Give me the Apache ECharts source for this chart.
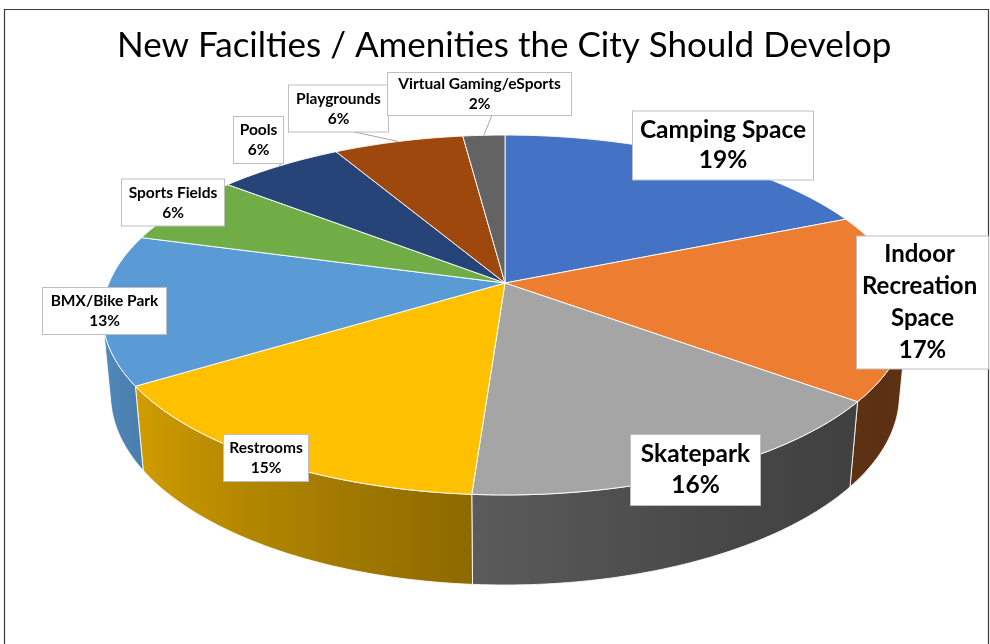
<!DOCTYPE html>
<html><head><meta charset="utf-8">
<script src="https://cdn.jsdelivr.net/npm/echarts@6/dist/echarts.min.js"></script>
<style>html,body{margin:0;padding:0;background:#fff}#c{width:990px;height:644px}</style>
</head><body><div id="c"></div>
<script>
// ---- data ----
const categories = ['Camping Space', 'Indoor Recreation Space', 'Skatepark', 'Restrooms', 'BMX/Bike Park',
  'Sports Fields', 'Pools', 'Playgrounds', 'Virtual Gaming/eSports'];
const shares = [18.6, 16.8, 15.7, 14.9, 13.4, 6.4, 6.0, 6.2, 2.0];
const titleText = 'New Facilties / Amenities the City Should Develop';

// ---- styles / layout ----
const sliceColors = ['#4472C4', '#ED7D31', '#A5A5A5', '#FFC000', '#5B9BD5', '#70AD47', '#264478', '#9E480E', '#636363'];
const labelLayout = [
  { cx: 723, cy: 145.5, w: 180, size: 24.5, lh: 30, pv: 4 },
  { cx: 922.5, cy: 302.5, w: 131, size: 24, lh: 32, pv: 2, wrap: true },
  { cx: 695.5, cy: 470, w: 129, size: 24.5, lh: 31, pv: 4 },
  { cx: 266, cy: 458, w: 84, size: 15.5, lh: 20, pv: 3 },
  { cx: 104.5, cy: 311, w: 123, size: 15.5, lh: 20, pv: 3 },
  { cx: 173, cy: 202.5, w: 102, size: 15.5, lh: 20, pv: 3 },
  { cx: 258.5, cy: 140, w: 49, size: 15.5, lh: 20, pv: 3, leader: [283, 160] },
  { cx: 338.5, cy: 108.5, w: 99, size: 15.5, lh: 20, pv: 3, leader: [350, 131] },
  { cx: 479.5, cy: 94, w: 183, size: 15.5, lh: 20, pv: 1, leader: [492, 115] }
];
const VIEW = { cx: 505, cy: 283, f: 2000, D: 5.05, sinA: 0.44, cosA: 0.898, H: 0.2249 };
const FONT = 'Lato, "Open Sans", sans-serif';

const total = shares.reduce((a, b) => a + b, 0);
const starts = [];
{ let acc = 0; shares.forEach(v => { starts.push(acc / total * 360); acc += v; }); }

function project(phi, r, z) {
  const a = phi * Math.PI / 180;
  const x = r * Math.sin(a), y = -r * Math.cos(a);
  const py = -y * VIEW.sinA + z * VIEW.cosA;
  const pz = y * VIEW.cosA + z * VIEW.sinA;
  const d = VIEW.D - pz;
  return [VIEW.cx + VIEW.f * x / d, VIEW.cy - VIEW.f * py / d];
}
function shadeFactor(phi) { return 0.683 + 0.2935 * Math.cos((phi - 300) * Math.PI / 180); }
function shade(hex, k) {
  const n = parseInt(hex.slice(1), 16);
  const r = Math.round(((n >> 16) & 255) * k), g = Math.round(((n >> 8) & 255) * k), b = Math.round((n & 255) * k);
  return 'rgb(' + r + ',' + g + ',' + b + ')';
}
const visMin = Math.acos(-1 / (VIEW.D * VIEW.cosA)) * 180 / Math.PI;
const visMax = 360 - visMin;

function arc(a0, a1, z) {
  const pts = [];
  const n = Math.max(2, Math.ceil(a1 - a0));
  for (let k = 0; k <= n; k++) pts.push(project(a0 + (a1 - a0) * k / n, 1, z));
  return pts;
}

function renderItem(params, api) {
  const i = params.dataIndex;
  const v = api.value(0);
  const a0 = starts[i], a1 = a0 + v / total * 360;
  const color = sliceColors[i];
  const children = [];
  // side wall
  const s0 = Math.max(a0, visMin), s1 = Math.min(a1, visMax);
  if (s1 > s0) {
    const top = arc(s0, s1, 0);
    const bot = arc(s0, s1, -VIEW.H).reverse();
    const xs = top.map(p => p[0]);
    const xR = Math.max(...xs), xL = Math.min(...xs);
    const stops = [];
    const n = 12;
    for (let k = 0; k <= n; k++) {
      const phi = s0 + (s1 - s0) * k / n;
      const px = project(phi, 1, 0)[0];
      stops.push({ offset: xR > xL ? (px - xL) / (xR - xL) : 0, color: shade(color, shadeFactor(phi)) });
    }
    stops.sort((p, q) => p.offset - q.offset);
    children.push({
      type: 'polygon', z2: 1,
      shape: { points: top.concat(bot) },
      style: {
        fill: { type: 'linear', x: xL, y: 0, x2: xR, y2: 0, global: true, colorStops: stops },
        stroke: 'rgba(255,255,255,0.85)', lineWidth: 1
      }
    });
  }
  // top face
  const face = [project(0, 0, 0)].concat(arc(a0, a1, 0));
  children.push({
    type: 'polygon', z2: 2,
    shape: { points: face },
    style: { fill: color, stroke: 'rgba(255,255,255,0.9)', lineWidth: 1 }
  });
  // label
  const L = labelLayout[i];
  const pct = Math.round(v / total * 100) + '%';
  if (L.leader) {
    const tgt = project((a0 + a1) / 2, 1, 0);
    children.push({
      type: 'polyline', z2: 3,
      shape: { points: [L.leader, tgt] },
      style: { stroke: '#a6a6a6', lineWidth: 1, fill: null }
    });
  }
  const padH = L.wrap ? 2 : 3;
  children.push({
    type: 'text', z2: 4,
    x: L.cx, y: L.cy,
    style: {
      text: categories[i] + '\n' + pct,
      fontFamily: FONT, fontSize: L.size, fontWeight: 'bold', fill: '#000',
      lineHeight: L.lh, align: 'center', verticalAlign: 'middle',
      width: L.w - 2 * padH, overflow: L.wrap ? 'break' : 'none',
      backgroundColor: '#fff', borderColor: '#bfbfbf', borderWidth: 1,
      padding: [L.pv, padH, L.pv, padH]
    }
  });
  return { type: 'group', children };
}

const chart = echarts.init(document.getElementById('c'), null, { renderer: 'canvas' });
chart.setOption({
  backgroundColor: '#fff',
  animation: false,
  title: {
    text: titleText, left: 112, top: 23,
    textStyle: { fontFamily: FONT, fontSize: 35, fontWeight: 'normal', color: '#000' }
  },
  graphic: [{
    type: 'rect', z: -1, silent: true,
    shape: { x: 4.5, y: 9.5, width: 984, height: 660 },
    style: { fill: null, stroke: '#3a3a3a', lineWidth: 1.2 }
  }],
  series: [{
    type: 'custom', coordinateSystem: 'none',
    renderItem,
    data: shares.map((v, i) => ({ name: categories[i], value: v }))
  }]
});
</script></body></html>
